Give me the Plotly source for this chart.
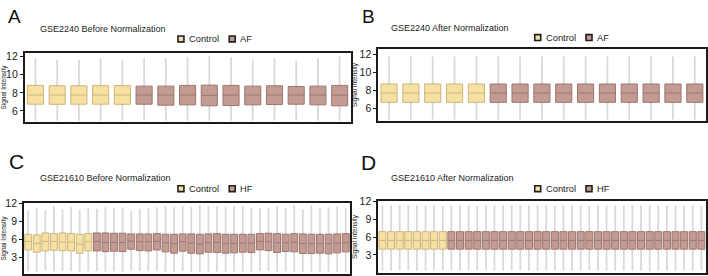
import plotly.graph_objects as go

W, H = 708, 276

# ---------------- data ----------------
# Panel A: GSE2240 before normalization (5 Control, 10 AF)
a_samples = ["A_C1", "A_C2", "A_C3", "A_C4", "A_C5",
             "A_AF1", "A_AF2", "A_AF3", "A_AF4", "A_AF5",
             "A_AF6", "A_AF7", "A_AF8", "A_AF9", "A_AF10"]
a_n_ctrl = 5
a_q1 = [6.75, 6.74, 6.75, 6.75, 6.74,
        6.75, 6.64, 6.68, 6.57, 6.60, 6.68, 6.71, 6.75, 6.68, 6.57]
a_med = [7.76, 7.76, 7.76, 7.76, 7.76,
         7.75, 7.76, 7.76, 7.72, 7.75, 7.76, 7.76, 7.75, 7.76, 7.75]
a_q3 = [8.82, 8.78, 8.78, 8.80, 8.80,
        8.74, 8.74, 8.82, 8.85, 8.82, 8.74, 8.78, 8.70, 8.74, 8.82]
a_lo = [4.92, 4.92, 4.92, 4.92, 4.92,
        4.92, 4.92, 4.92, 4.92, 4.92, 4.92, 4.92, 4.92, 4.92, 4.92]
a_hi = [11.82, 11.64, 11.64, 11.82, 11.64,
        11.82, 11.82, 11.90, 12.11, 11.90, 11.64, 11.82, 11.54, 11.82, 12.00]

# Panel B: GSE2240 after normalization
b_samples = ["B_C1", "B_C2", "B_C3", "B_C4", "B_C5",
             "B_AF1", "B_AF2", "B_AF3", "B_AF4", "B_AF5",
             "B_AF6", "B_AF7", "B_AF8", "B_AF9", "B_AF10"]
b_n_ctrl = 5
b_q1 = [6.70] * 15
b_med = [7.72] * 15
b_q3 = [8.72] * 15
b_lo = [4.82] * 15
b_hi = [11.75] * 15

# Panel C: GSE21610 before normalization (8 Control, 30 HF)
c_samples = ["C_C%d" % i for i in range(1, 9)] + ["C_HF%d" % i for i in range(1, 31)]
c_n_ctrl = 8
c_q1 = [4.25, 3.87, 4.09, 4.20, 4.14, 4.09, 3.71, 4.09,
        4.09, 3.98, 4.04, 3.98, 4.36, 4.14, 4.09, 4.25, 3.93, 3.71,
        4.04, 3.71, 3.60, 3.87, 3.82, 3.71, 3.76, 3.87, 3.82, 4.25,
        4.14, 3.82, 3.98, 3.93, 3.65, 3.65, 3.71, 3.60, 3.76, 3.93]
c_med = [5.67, 5.34, 5.67, 5.67, 5.56, 5.56, 5.23, 5.62,
         5.67, 5.51, 5.51, 5.51, 5.72, 5.62, 5.62, 5.67, 5.45, 5.29,
         5.62, 5.40, 5.23, 5.45, 5.51, 5.34, 5.34, 5.40, 5.40, 5.67,
         5.62, 5.45, 5.45, 5.56, 5.34, 5.29, 5.29, 5.29, 5.40, 5.45]
c_q3 = [6.87, 6.76, 7.09, 6.98, 7.09, 6.98, 6.87, 6.98,
        7.09, 7.09, 7.04, 7.04, 6.93, 6.93, 6.93, 6.98, 6.87, 6.87,
        6.93, 6.93, 6.87, 6.93, 6.98, 6.87, 6.87, 6.87, 6.87, 6.98,
        7.04, 6.98, 6.87, 6.98, 6.93, 6.87, 6.87, 6.87, 6.93, 6.98]
c_lo = [0.70, 0.65, 0.75, 0.70, 0.72, 0.68, 0.62, 0.70,
        0.70, 0.66, 0.70, 0.66, 0.78, 0.72, 0.70, 0.74, 0.66, 0.62,
        0.70, 0.62, 0.60, 0.66, 0.64, 0.62, 0.64, 0.66, 0.64, 0.74,
        0.72, 0.64, 0.68, 0.66, 0.60, 0.60, 0.62, 0.60, 0.62, 0.66]
c_hi = [10.90, 11.30, 10.85, 11.56, 11.00, 11.40, 11.00, 11.30,
        11.13, 11.40, 11.29, 11.40, 10.75, 11.13, 11.18, 11.40, 11.56, 11.40,
        11.67, 11.40, 11.73, 11.56, 11.56, 11.40, 11.56, 11.56, 11.29, 11.18,
        11.29, 11.56, 11.18, 11.73, 11.02, 11.73, 11.29, 11.40, 11.45, 11.29]

# Panel D: GSE21610 after normalization
d_samples = ["D_C%d" % i for i in range(1, 9)] + ["D_HF%d" % i for i in range(1, 31)]
d_n_ctrl = 8
d_q1 = [3.98] * 38
d_med = [5.45] * 38
d_q3 = [6.93] * 38
d_lo = [0.35] * 38
d_hi = [11.35] * 38

panel_titles = ["GSE2240 Before Normalization", "GSE2240 After Normalization",
                "GSE21610 Before Normalization", "GSE21610 After Normalization"]
panel_letters = ["A", "B", "C", "D"]
case_labels = ["AF", "AF", "HF", "HF"]
y_ticks_ab = [6, 8, 10, 12]
y_ticks_cd = [3, 6, 9, 12]

# ---------------- styles ----------------
CTRL_FILL = "#f6e0a2"
CTRL_LINE = "#cdb57c"
CASE_FILL = "#c49b93"
CASE_LINE = "#9c766f"
WHISK = "#d9d9d9"

def px_x(a, b):
    return [a / W, b / W]

def px_y(top, bottom):
    return [1 - bottom / H, 1 - top / H]

panels = [
    dict(s=a_samples, n=a_n_ctrl, q1=a_q1, med=a_med, q3=a_q3, lo=a_lo, hi=a_hi,
         xd=px_x(21.7, 349), yd=px_y(47.7, 119), yr=[4.74, 12.43], ticks=y_ticks_ab, bw=0.74,
         title_xy=(36.5, 24), letter_xy=(4, 10.5), letter_size=19, leg_xy=(175.7, 33.7)),
    dict(s=b_samples, n=b_n_ctrl, q1=b_q1, med=b_med, q3=b_q3, lo=b_lo, hi=b_hi,
         xd=px_x(376.7, 705.7), yd=px_y(44.3, 117.3), yr=[4.67, 12.54], ticks=y_ticks_ab, bw=0.74,
         title_xy=(389, 22), letter_xy=(360, 10.5), letter_size=19, leg_xy=(534, 32.3)),
    dict(s=c_samples, n=c_n_ctrl, q1=c_q1, med=c_med, q3=c_q3, lo=c_lo, hi=c_hi,
         xd=px_x(21, 348.5), yd=px_y(201.3, 274), yr=[0.22, 12.11], ticks=y_ticks_cd, bw=0.8,
         title_xy=(35.7, 175.7), letter_xy=(5, 158.8), letter_size=21, leg_xy=(175.7, 186.7)),
    dict(s=d_samples, n=d_n_ctrl, q1=d_q1, med=d_med, q3=d_q3, lo=d_lo, hi=d_hi,
         xd=px_x(376.7, 705.7), yd=px_y(199.7, 272.5), yr=[0.02, 12.05], ticks=y_ticks_cd, bw=0.82,
         title_xy=(389, 175.7), letter_xy=(359, 159.5), letter_size=21, leg_xy=(534, 186.7)),
]

LEG_SW = 6.0        # legend swatch size, px
LEG_STEP = 51.5     # distance between the two legend entries, px
LEG_TEXT_DX = 10.0  # swatch left edge to label, px

fig = go.Figure()
layout = dict(width=W, height=H, margin=dict(l=0, r=0, t=0, b=0),
              paper_bgcolor="white", plot_bgcolor="white",
              font=dict(family="Liberation Sans, Arial, sans-serif", color="#222"),
              boxmode="overlay", annotations=[], shapes=[], showlegend=False)

for k, p in enumerate(panels):
    sfx = "" if k == 0 else str(k + 1)
    xa, ya = "x" + sfx, "y" + sfx
    n = p["n"]
    # whiskers (drawn behind the boxes)
    fig.add_trace(go.Box(x=p["s"], q1=p["q1"], median=p["med"], q3=p["q3"],
                         lowerfence=p["lo"], upperfence=p["hi"], width=0.06,
                         whiskerwidth=0, line=dict(color=WHISK, width=1.8),
                         fillcolor=WHISK, boxpoints=False, showlegend=False,
                         hoverinfo="skip", xaxis=xa, yaxis=ya))
    groups = [("Control", slice(0, n), CTRL_FILL, CTRL_LINE),
              (case_labels[k], slice(n, None), CASE_FILL, CASE_LINE)]
    for name, sl, fill, line in groups:
        fig.add_trace(go.Box(x=p["s"][sl], q1=p["q1"][sl], median=p["med"][sl],
                             q3=p["q3"][sl], lowerfence=p["q1"][sl], upperfence=p["q3"][sl],
                             width=p["bw"], whiskerwidth=0,
                             line=dict(color=line, width=1), fillcolor=fill,
                             boxpoints=False, name=name, showlegend=False,
                             xaxis=xa, yaxis=ya))
    # legend: square swatch + label per group
    lx, ly = p["leg_xy"]
    for j, (name, sl, fill, line) in enumerate(groups):
        x0 = lx + j * LEG_STEP
        layout["shapes"].append(dict(type="rect", xref="paper", yref="paper",
                                     x0=x0 / W, x1=(x0 + LEG_SW) / W,
                                     y0=1 - (ly + LEG_SW / 2) / H, y1=1 - (ly - LEG_SW / 2) / H,
                                     fillcolor=fill, line=dict(color="#1e1e1e", width=1.6)))
        layout["annotations"].append(dict(text=name, xref="paper", yref="paper",
                                          x=(x0 + LEG_TEXT_DX) / W, y=1 - ly / H,
                                          xanchor="left", yanchor="middle", showarrow=False,
                                          borderpad=0, font=dict(size=9.3, color="#222")))
    layout["xaxis" + sfx] = dict(domain=p["xd"], anchor=ya, type="category",
                                 showticklabels=False, ticks="", showgrid=False,
                                 zeroline=False, showline=True, mirror=True,
                                 linecolor="#1a1a1a", linewidth=1.5,
                                 categoryorder="array", categoryarray=p["s"],
                                 range=[-0.5, len(p["s"]) - 0.5])
    layout["yaxis" + sfx] = dict(domain=p["yd"], anchor=xa, range=p["yr"],
                                 tickvals=p["ticks"], ticks="outside", ticklen=3,
                                 tickwidth=1, tickcolor="#1a1a1a", showgrid=False,
                                 zeroline=False, showline=True, mirror=True,
                                 linecolor="#1a1a1a", linewidth=1.5,
                                 tickfont=dict(size=10.5, color="#222"),
                                 title=dict(text="Signal Intensity", standoff=1,
                                            font=dict(size=6.5, color="#222")))
    layout["annotations"].append(dict(text=panel_titles[k], xref="paper", yref="paper",
                                      x=p["title_xy"][0] / W, y=1 - p["title_xy"][1] / H,
                                      xanchor="left", yanchor="middle", showarrow=False,
                                      borderpad=0, font=dict(size=9, color="#222")))
    layout["annotations"].append(dict(text=panel_letters[k], xref="paper", yref="paper",
                                      x=p["letter_xy"][0] / W, y=1 - p["letter_xy"][1] / H,
                                      xanchor="left", yanchor="middle", showarrow=False,
                                      borderpad=0, font=dict(size=p["letter_size"], color="#111")))

fig.update_layout(**layout)
fig.write_html("out.html")
